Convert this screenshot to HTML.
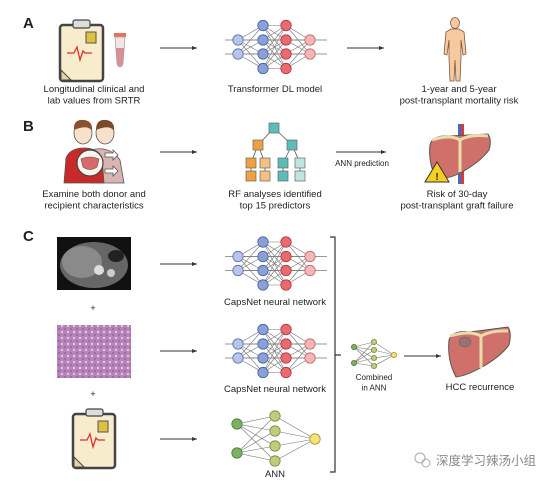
<!DOCTYPE html>
<html><head><meta charset="utf-8"><style>
html,body{margin:0;padding:0;background:#fff}
svg{display:block}
text{font-family:"Liberation Sans",Arial,sans-serif;fill:#222}
</style></head><body>
<svg id="s" width="554" height="485" viewBox="0 0 554 485">
<defs><marker id="ah" markerWidth="6" markerHeight="6" refX="5" refY="3" orient="auto"><path d="M0,1 L5,3 L0,5 Z" fill="#333"/></marker></defs>
<text x="23" y="28" font-size="15" font-weight="bold">A</text>
<text x="23" y="131" font-size="15" font-weight="bold">B</text>
<text x="23" y="241" font-size="15" font-weight="bold">C</text>

<g>
<rect x="60" y="25" width="43" height="56" rx="3" fill="#f7eccb" stroke="#444" stroke-width="2.5"/>
<rect x="73" y="20" width="17" height="8" rx="2" fill="#ddd" stroke="#444" stroke-width="1.2"/>
<rect x="86" y="32" width="10" height="11" fill="#e0c040" stroke="#555" stroke-width="1"/>
<path d="M67 53 L74 53 L77 47 L80 60 L83 51 L85 53 L92 53" fill="none" stroke="#e03030" stroke-width="1.3"/>
<path d="M61 70 L61 80 L71 80 Z" fill="#e6d3a8" stroke="#444" stroke-width="1"/>
</g>
<g>
<rect x="114" y="33" width="12" height="4" fill="#e7705a"/>
<path d="M115 37 L125 37 L123 64 Q120 70 117 64 Z" fill="#f1e4e4" stroke="#aaa" stroke-width="0.8"/>
<path d="M115.8 48 L124.2 48 L123 64 Q120 70 117 64 Z" fill="#d58f96"/>
</g>
<text x="94" y="92" font-size="9.5" text-anchor="middle"><tspan x="94">Longitudinal clinical and</tspan><tspan x="94" dy="11.5">lab values from SRTR</tspan></text>
<text x="275" y="92" font-size="9.5" text-anchor="middle">Transformer DL model</text>
<text x="459" y="92" font-size="9.5" text-anchor="middle"><tspan x="459">1-year and 5-year</tspan><tspan x="459" dy="11.5">post-transplant mortality risk</tspan></text>
<g fill="#f7c9a0" stroke="#7a5a40" stroke-width="0.8">
<ellipse cx="455" cy="23" rx="4.5" ry="5.5"/>
<path d="M451 29 L459 29 L464 32 L466 54 L463 55 L461 40 L461 58 L460 81 L456 81 L455 60 L454 81 L450 81 L449 58 L449 40 L447 55 L444 54 L446 32 Z"/>
</g>

<g>
<path d="M90 150 Q110 145 120 160 L124 183 L90 183 Z" fill="#d8b5b0" stroke="#555" stroke-width="0.8"/>
<ellipse cx="105" cy="133" rx="9" ry="11" fill="#f7e0cc" stroke="#555" stroke-width="0.8"/>
<path d="M96 130 Q96 119 106 120 Q115 121 114 131 Q110 124 96 130 Z" fill="#7a4a2a"/>
<path d="M64 183 L66 158 Q70 148 84 148 Q98 148 102 158 L104 183 Z" fill="#c82a2a" stroke="#555" stroke-width="0.8"/>
<ellipse cx="83" cy="133" rx="9" ry="11" fill="#f7e0cc" stroke="#555" stroke-width="0.8"/>
<path d="M74 130 Q73 119 84 120 Q93 121 92 131 Q88 124 74 130 Z" fill="#8a5030"/>
<circle cx="90" cy="163" r="13" fill="#fbf4ea" stroke="#444" stroke-width="1.2"/>
<path d="M81 159 Q90 155 99 159 L97 167 Q90 172 83 167 Z" fill="#d86a6a" stroke="#555" stroke-width="0.6"/>
<path d="M105 153 L113 153 L113 150 L118 155 L113 160 L113 157 L105 157 Z M105 169 L113 169 L113 166 L118 171 L113 176 L113 173 L105 173 Z" fill="#fff" stroke="#555" stroke-width="0.8"/>
</g>
<text x="94" y="197" font-size="9.5" text-anchor="middle"><tspan x="94">Examine both donor and</tspan><tspan x="94" dy="11.5">recipient characteristics</tspan></text>
<g id="tree"></g>
<text x="275" y="197" font-size="9.5" text-anchor="middle"><tspan x="275">RF analyses identified</tspan><tspan x="275" dy="11.5">top 15 predictors</tspan></text>
<text x="362" y="166" font-size="8" text-anchor="middle">ANN prediction</text>
<g>
<rect x="458" y="124" width="3" height="60" fill="#3a6ec8"/><rect x="461" y="124" width="3" height="60" fill="#d83a3a"/>
<path d="M430 145 Q432 135 450 136 L488 134 Q492 140 489 150 Q480 162 462 172 Q448 180 436 178 Q428 162 430 145 Z" fill="#d0706a" stroke="#555" stroke-width="1"/>
<path d="M432 140 Q450 134 460 140 Q470 134 488 136" fill="none" stroke="#e8dcaa" stroke-width="3"/>
<path d="M460 140 L460 172" stroke="#e8dcaa" stroke-width="3"/>
<path d="M437 162 L449 182 L425 182 Z" fill="#f5d020" stroke="#333" stroke-width="1"/>
<text x="437" y="180" font-size="10" font-weight="bold" text-anchor="middle">!</text>
</g>
<text x="457" y="197" font-size="9.5" text-anchor="middle"><tspan x="457">Risk of 30-day</tspan><tspan x="457" dy="11.5">post-transplant graft failure</tspan></text>

<g>
<rect x="57" y="237" width="74" height="53" fill="#111"/>
<ellipse cx="94" cy="265" rx="34" ry="23" fill="#666"/>
<ellipse cx="82" cy="262" rx="20" ry="16" fill="#8a8a8a"/>
<circle cx="99" cy="270" r="5" fill="#ddd"/><circle cx="111" cy="273" r="4" fill="#ccc"/>
<ellipse cx="116" cy="256" rx="8" ry="6" fill="#222"/>
</g>
<text x="93" y="311" font-size="9" text-anchor="middle">+</text>
<g>
<rect x="57" y="325" width="74" height="53" fill="#b583b8"/>
<rect x="57" y="325" width="74" height="53" fill="url(#hp)"/>
</g>
<defs><pattern id="hp" width="6" height="6" patternUnits="userSpaceOnUse"><circle cx="2" cy="2" r="1.1" fill="#e0d0e6"/><circle cx="5" cy="5" r="0.8" fill="#8a4a90"/></pattern></defs>
<text x="93" y="397" font-size="9" text-anchor="middle">+</text>
<g>
<rect x="73" y="414" width="42" height="54" rx="3" fill="#f7eccb" stroke="#444" stroke-width="2.5"/>
<rect x="86" y="409" width="17" height="7" rx="2" fill="#ddd" stroke="#444" stroke-width="1.2"/>
<rect x="98" y="421" width="10" height="11" fill="#e0c040" stroke="#555" stroke-width="1"/>
<path d="M80 440 L87 440 L90 434 L93 447 L96 438 L98 440 L105 440" fill="none" stroke="#e03030" stroke-width="1.3"/>
<path d="M74 457 L74 467 L84 467 Z" fill="#e6d3a8" stroke="#444" stroke-width="1"/>
</g>
<text x="275" y="305" font-size="9.5" text-anchor="middle">CapsNet neural network</text>
<text x="275" y="392" font-size="9.5" text-anchor="middle">CapsNet neural network</text>
<text x="275" y="477" font-size="9.5" text-anchor="middle">ANN</text>
<path d="M330 237 L335 237 L335 472 L330 472 M335 355 L341 355" fill="none" stroke="#333" stroke-width="1.2"/>
<text x="374" y="380" font-size="8" text-anchor="middle"><tspan x="374">Combined</tspan><tspan x="374" dy="10.5">in ANN</tspan></text>
<g>
<path d="M449 340 Q452 330 470 332 L508 327 Q512 333 509 345 Q500 357 482 367 Q466 376 456 377 Q447 360 449 340 Z" fill="#d0706a" stroke="#555" stroke-width="1"/>
<path d="M450 336 Q470 330 481 336 Q492 330 508 331" fill="none" stroke="#e8dcaa" stroke-width="3"/>
<path d="M481 336 L481 368" stroke="#e8dcaa" stroke-width="3"/>
<ellipse cx="465" cy="342" rx="6" ry="5" fill="#9a7070" stroke="#666" stroke-width="0.6"/>
</g>
<text x="480" y="390" font-size="9.5" text-anchor="middle">HCC recurrence</text>
<g>
<circle cx="420" cy="458" r="5" fill="none" stroke="#aaa" stroke-width="1"/><circle cx="426" cy="463" r="4" fill="none" stroke="#aaa" stroke-width="1"/>
<text x="436" y="465" font-size="12.5" style="font-family:'Liberation Sans','Noto Sans CJK SC',sans-serif;fill:#888">深度学习辣汤小组</text>
</g>
<g id="arrows"></g>
<g id="nets"></g>
</svg>
<script>
const NS='http://www.w3.org/2000/svg';
const nets=document.getElementById('nets');
function mk(tag,attrs,parent){const e=document.createElementNS(NS,tag);for(const k in attrs)e.setAttribute(k,attrs[k]);parent.appendChild(e);return e;}
const arrowSpecs=[[160,197,48],[347,384,48],[160,197,152],[336,386,152],[160,197,264],[160,197,351],[160,197,439],[404,441,356]];
arrowSpecs.forEach(a=>{const l=mk('line',{x1:a[0],y1:a[2],x2:a[1],y2:a[2],stroke:'#333','stroke-width':1,'marker-end':'url(#ah)'},document.getElementById('arrows'));

});
function deep(cy,name){
 const g=mk('g',{},nets);
 
 
 const xs=[238,263,286,310];
 const layers=[[-7,7],[-21.5,-7,7,21.5],[-21.5,-7,7,21.5],[-7,7]];
 const fills=['#b9c4ea','#8aa0d8','#ea6a70','#f7b5b5'];
 const strokes=['#5a6ea8','#4a5f9e','#a83a40','#b86a6a'];
 [-7,7].forEach(d=>mk('line',{x1:225,y1:cy+d,x2:327,y2:cy+d,stroke:'#777','stroke-width':0.8},g));
 for(let i=0;i<3;i++)layers[i].forEach(a=>layers[i+1].forEach(b=>mk('line',{x1:xs[i],y1:cy+a,x2:xs[i+1],y2:cy+b,stroke:'#777','stroke-width':0.6},g)));
 layers.forEach((L,i)=>L.forEach(d=>mk('circle',{cx:xs[i],cy:cy+d,r:5.2,fill:fills[i],stroke:strokes[i],'stroke-width':0.8},g)));
}
deep(47,'transformer-network');
deep(263.5,'capsnet-network-1');
deep(351,'capsnet-network-2');
function ann(xs,ys,r,name){
 const g=mk('g',{},nets);
 
 
 const fills=['#7cb062','#bccd7c','#f6e27c'],st=['#4a7a3a','#7a8a40','#a89030'];
 for(let i=0;i<2;i++)ys[i].forEach(a=>ys[i+1].forEach(b=>mk('line',{x1:xs[i],y1:a,x2:xs[i+1],y2:b,stroke:'#777','stroke-width':0.6},g)));
 ys.forEach((L,i)=>L.forEach(y=>mk('circle',{cx:xs[i],cy:y,r:r,fill:fills[i],stroke:st[i],'stroke-width':0.8},g)));
}
ann([237,275,315],[[424,453],[416,431,446,461],[439]],5.2,'ann-network');
ann([354,374,394],[[347,363],[342,350,358,366],[355]],2.6,'combined-ann');
const tree=document.getElementById('tree');
const edges=[[274,128,258,145],[274,128,292,145],[258,145,251,163],[258,145,265,163],[292,145,283,163],[292,145,300,163],[251,163,251,176],[265,163,265,176],[283,163,283,176],[300,163,300,176]];
edges.forEach(e=>mk('line',{x1:e[0],y1:e[1],x2:e[2],y2:e[3],stroke:'#555','stroke-width':0.8},tree));
const nodes=[[274,128,'#5cbcb8'],[258,145,'#f0a040'],[292,145,'#5cbcb8'],[251,163,'#f0a040'],[265,163,'#f7c080'],[283,163,'#5cbcb8'],[300,163,'#c0e4e2'],[251,176,'#f0a040'],[265,176,'#f7c080'],[283,176,'#5cbcb8'],[300,176,'#c0e4e2']];
nodes.forEach(n=>mk('rect',{x:n[0]-5,y:n[1]-5,width:10,height:10,fill:n[2],stroke:'#666','stroke-width':0.7},tree));
</script>
</body></html>
